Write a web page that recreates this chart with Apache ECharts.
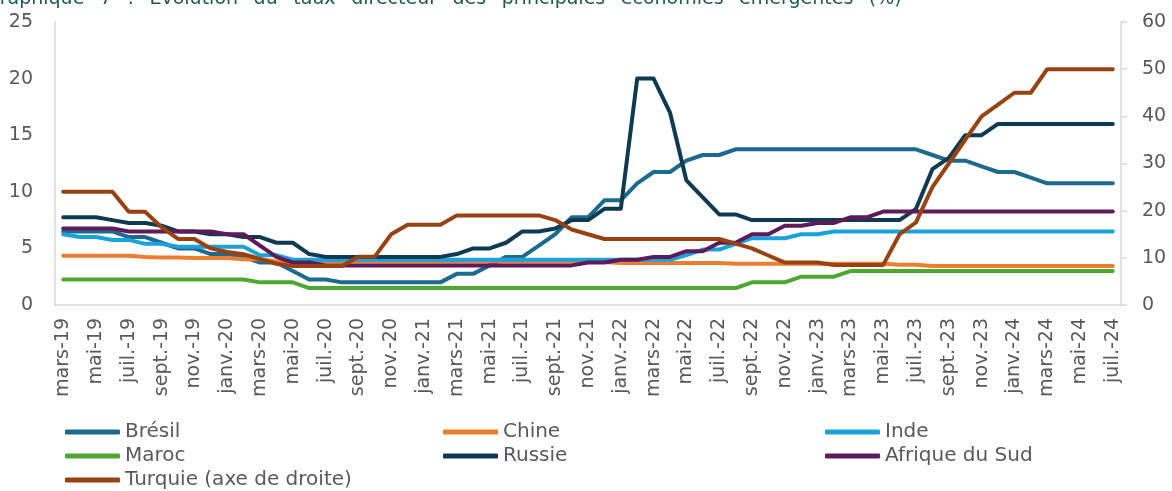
<!DOCTYPE html>
<html lang="fr">
<head>
<meta charset="utf-8">
<title>Taux directeurs des économies émergentes</title>
<script src="https://cdn.jsdelivr.net/npm/echarts@6/dist/echarts.min.js"></script>
<style>
  html, body { margin: 0; padding: 0; background: #ffffff; }
  #chart { width: 1172px; height: 491px; }
</style>
</head>
<body>
<div id="chart"></div>
<script>
// Mois (mars 2019 -> juillet 2024)
const months = [
  'mars-19','avr.-19','mai-19','juin-19','juil.-19','août-19','sept.-19','oct.-19','nov.-19','déc.-19',
  'janv.-20','févr.-20','mars-20','avr.-20','mai-20','juin-20','juil.-20','août-20','sept.-20','oct.-20','nov.-20','déc.-20',
  'janv.-21','févr.-21','mars-21','avr.-21','mai-21','juin-21','juil.-21','août-21','sept.-21','oct.-21','nov.-21','déc.-21',
  'janv.-22','févr.-22','mars-22','avr.-22','mai-22','juin-22','juil.-22','août-22','sept.-22','oct.-22','nov.-22','déc.-22',
  'janv.-23','févr.-23','mars-23','avr.-23','mai-23','juin-23','juil.-23','août-23','sept.-23','oct.-23','nov.-23','déc.-23',
  'janv.-24','févr.-24','mars-24','avr.-24','mai-24','juin-24','juil.-24'
];

// Taux directeurs (%), axe de gauche
const bresil = [
  6.5, 6.5, 6.5, 6.5, 6.0, 6.0, 5.5, 5.0, 5.0, 4.5,
  4.5, 4.25, 3.75, 3.75, 3.0, 2.25, 2.25, 2.0, 2.0, 2.0, 2.0, 2.0,
  2.0, 2.0, 2.75, 2.75, 3.5, 4.25, 4.25, 5.25, 6.25, 7.75, 7.75, 9.25,
  9.25, 10.75, 11.75, 11.75, 12.75, 13.25, 13.25, 13.75, 13.75, 13.75, 13.75, 13.75,
  13.75, 13.75, 13.75, 13.75, 13.75, 13.75, 13.75, 13.25, 12.75, 12.75, 12.25, 11.75,
  11.75, 11.25, 10.75, 10.75, 10.75, 10.75, 10.75
];
const chine = [
  4.35, 4.35, 4.35, 4.35, 4.35, 4.25, 4.2, 4.2, 4.15, 4.15,
  4.15, 4.05, 4.05, 3.85, 3.85, 3.85, 3.85, 3.85, 3.85, 3.85, 3.85, 3.85,
  3.85, 3.85, 3.85, 3.85, 3.85, 3.85, 3.85, 3.85, 3.85, 3.85, 3.85, 3.8,
  3.7, 3.7, 3.7, 3.7, 3.7, 3.7, 3.7, 3.65, 3.65, 3.65, 3.65, 3.65,
  3.65, 3.65, 3.65, 3.65, 3.65, 3.55, 3.55, 3.45, 3.45, 3.45, 3.45, 3.45,
  3.45, 3.45, 3.45, 3.45, 3.45, 3.45, 3.45
];
const inde = [
  6.25, 6.0, 6.0, 5.75, 5.75, 5.4, 5.4, 5.15, 5.15, 5.15,
  5.15, 5.15, 4.4, 4.4, 4.0, 4.0, 4.0, 4.0, 4.0, 4.0, 4.0, 4.0,
  4.0, 4.0, 4.0, 4.0, 4.0, 4.0, 4.0, 4.0, 4.0, 4.0, 4.0, 4.0,
  4.0, 4.0, 4.0, 4.0, 4.4, 4.9, 4.9, 5.4, 5.9, 5.9, 5.9, 6.25,
  6.25, 6.5, 6.5, 6.5, 6.5, 6.5, 6.5, 6.5, 6.5, 6.5, 6.5, 6.5,
  6.5, 6.5, 6.5, 6.5, 6.5, 6.5, 6.5
];
const maroc = [
  2.25, 2.25, 2.25, 2.25, 2.25, 2.25, 2.25, 2.25, 2.25, 2.25,
  2.25, 2.25, 2.0, 2.0, 2.0, 1.5, 1.5, 1.5, 1.5, 1.5, 1.5, 1.5,
  1.5, 1.5, 1.5, 1.5, 1.5, 1.5, 1.5, 1.5, 1.5, 1.5, 1.5, 1.5,
  1.5, 1.5, 1.5, 1.5, 1.5, 1.5, 1.5, 1.5, 2.0, 2.0, 2.0, 2.5,
  2.5, 2.5, 3.0, 3.0, 3.0, 3.0, 3.0, 3.0, 3.0, 3.0, 3.0, 3.0,
  3.0, 3.0, 3.0, 3.0, 3.0, 3.0, 3.0
];
const russie = [
  7.75, 7.75, 7.75, 7.5, 7.25, 7.25, 7.0, 6.5, 6.5, 6.25,
  6.25, 6.0, 6.0, 5.5, 5.5, 4.5, 4.25, 4.25, 4.25, 4.25, 4.25, 4.25,
  4.25, 4.25, 4.5, 5.0, 5.0, 5.5, 6.5, 6.5, 6.75, 7.5, 7.5, 8.5,
  8.5, 20, 20, 17, 11, 9.5, 8, 8, 7.5, 7.5, 7.5, 7.5,
  7.5, 7.5, 7.5, 7.5, 7.5, 7.5, 8.5, 12, 13, 15, 15, 16,
  16, 16, 16, 16, 16, 16, 16
];
const afriqueDuSud = [
  6.75, 6.75, 6.75, 6.75, 6.5, 6.5, 6.5, 6.5, 6.5, 6.5,
  6.25, 6.25, 5.25, 4.25, 3.75, 3.75, 3.5, 3.5, 3.5, 3.5, 3.5, 3.5,
  3.5, 3.5, 3.5, 3.5, 3.5, 3.5, 3.5, 3.5, 3.5, 3.5, 3.75, 3.75,
  4.0, 4.0, 4.25, 4.25, 4.75, 4.75, 5.5, 5.5, 6.25, 6.25, 7.0, 7.0,
  7.25, 7.25, 7.75, 7.75, 8.25, 8.25, 8.25, 8.25, 8.25, 8.25, 8.25, 8.25,
  8.25, 8.25, 8.25, 8.25, 8.25, 8.25, 8.25
];

// Turquie (%), axe de droite
const turquie = [
  24, 24, 24, 24, 19.75, 19.75, 16.5, 14, 14, 12,
  11.25, 10.75, 9.75, 8.75, 8.25, 8.25, 8.25, 8.25, 10.25, 10.25, 15, 17,
  17, 17, 19, 19, 19, 19, 19, 19, 18, 16, 15, 14,
  14, 14, 14, 14, 14, 14, 14, 13, 12, 10.5, 9, 9,
  9, 8.5, 8.5, 8.5, 8.5, 15, 17.5, 25, 30, 35, 40, 42.5,
  45, 45, 50, 50, 50, 50, 50
];

const titleWords = ['Graphique', '7', ':', 'Évolution', 'du', 'taux', 'directeur', 'des',
  'principales', 'économies', 'émergentes', '(%)'];

const FONT = "'DejaVu Sans', Verdana, sans-serif";
const LABEL_COLOR = '#595959';
const AXIS_COLOR = '#d9d9d9';

function line(name, data, color, yAxisIndex) {
  return {
    name: name,
    type: 'line',
    data: data,
    yAxisIndex: yAxisIndex || 0,
    showSymbol: false,
    symbol: 'none',
    silent: true,
    lineStyle: { width: 4, color: color, cap: 'round', join: 'round' },
    itemStyle: { color: color }
  };
}

const legendBase = {
  orient: 'vertical',
  top: 422,
  icon: 'roundRect',
  itemWidth: 55,
  itemHeight: 5,
  itemGap: 4,
  textStyle: { fontFamily: FONT, fontSize: 20, color: LABEL_COLOR, lineHeight: 20, padding: [0, 0, 0, 0] },
  padding: 0,
  selectedMode: false
};

const chart = echarts.init(document.getElementById('chart'), null, { renderer: 'canvas' });
chart.setOption({
  animation: false,
  backgroundColor: '#ffffff',
  title: {
    // slightly wider word spacing, as in the report's heading
    text: titleWords.join('\u2002 '),
    left: -15,
    top: -10,
    padding: 0,
    textStyle: { fontFamily: FONT, fontSize: 19, fontWeight: 'normal', color: '#1e5b4c' }
  },
  grid: { left: 55, right: 51, top: 22, bottom: 186, containLabel: false },
  legend: [
    Object.assign({}, legendBase, { left: 65, data: ['Brésil', 'Maroc', 'Turquie (axe de droite)'] }),
    Object.assign({}, legendBase, { left: 443, data: ['Chine', 'Russie'] }),
    Object.assign({}, legendBase, { left: 825, data: ['Inde', 'Afrique du Sud'] })
  ],
  xAxis: {
    type: 'category',
    data: months,
    boundaryGap: true,
    axisLine: { show: true, lineStyle: { color: AXIS_COLOR, width: 1.5 } },
    axisTick: { show: false },
    axisLabel: {
      interval: 1,
      rotate: 90,
      margin: 13,
      fontFamily: FONT,
      fontSize: 19,
      color: LABEL_COLOR
    },
    splitLine: { show: false }
  },
  yAxis: [
    {
      type: 'value',
      min: 0,
      max: 25,
      interval: 5,
      axisLine: { show: true, lineStyle: { color: AXIS_COLOR, width: 1.5 } },
      axisTick: { show: false },
      splitLine: { show: false },
      axisLabel: { margin: 22, fontFamily: FONT, fontSize: 19, color: LABEL_COLOR }
    },
    {
      type: 'value',
      position: 'right',
      min: 0,
      max: 60,
      interval: 10,
      axisLine: { show: true, lineStyle: { color: AXIS_COLOR, width: 1.5 } },
      axisTick: { show: true, length: 6, lineStyle: { color: AXIS_COLOR, width: 1.5 } },
      splitLine: { show: false },
      axisLabel: { margin: 21, fontFamily: FONT, fontSize: 19, color: LABEL_COLOR }
    }
  ],
  series: [
    line('Brésil', bresil, '#1d6a8e'),
    line('Chine', chine, '#ed7d31'),
    line('Inde', inde, '#1aa2db'),
    line('Maroc', maroc, '#4ea72e'),
    line('Russie', russie, '#0f3b52'),
    line('Afrique du Sud', afriqueDuSud, '#5d1b5a'),
    line('Turquie (axe de droite)', turquie, '#984212', 1)
  ]
});
</script>
</body>
</html>
